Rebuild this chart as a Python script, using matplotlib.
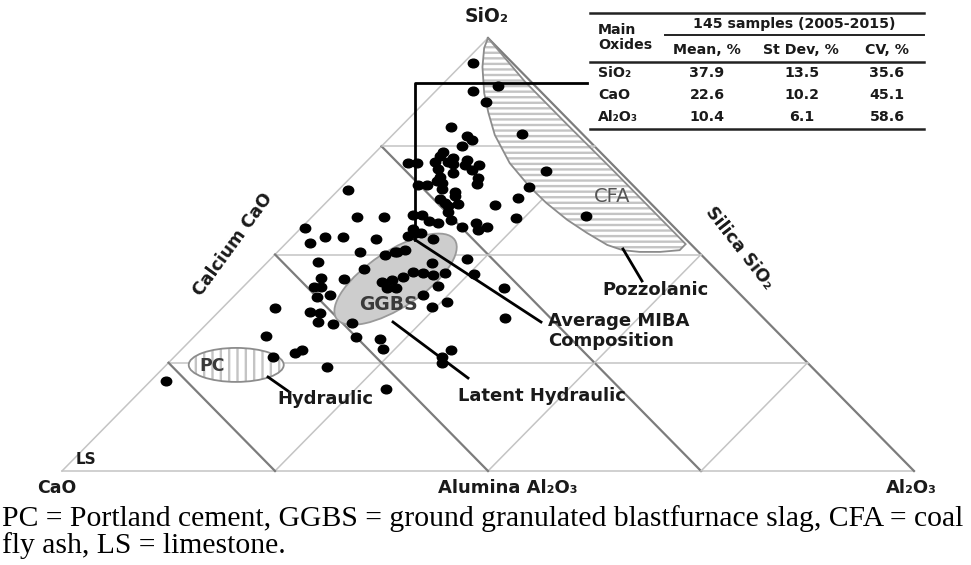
import numpy as np
import matplotlib
matplotlib.use("Agg")
import matplotlib.pyplot as plt
from matplotlib.patches import Ellipse, Polygon
from matplotlib.path import Path
from matplotlib.transforms import Affine2D

plt.rcParams['hatch.linewidth'] = 1.7

# MIBA samples, wt% (CaO is the rest to 100)
sio2 = np.array([94.2, 88.9, 87.8, 85.2, 79.4, 77.4, 76.4, 77.8, 75.1, 73.7,
                 72.7, 72.3, 71.1, 71.1, 71.4, 71.4, 70.9, 71.8, 70.7, 70.7,
                 69.5, 69.7, 68.8, 67.9, 67.0, 66.5, 67.7, 66.3, 66.1, 66.1,
                 65.1, 64.4, 63.5, 62.8, 61.9, 61.7, 61.2, 61.4, 63.0, 69.3,
                 65.6, 59.8, 59.1, 59.1, 58.0, 57.7, 57.3, 58.4, 58.9, 57.3,
                 55.7, 56.4, 56.4, 55.9, 55.0, 55.0, 54.3, 53.6, 50.6, 51.0,
                 49.0,
                 64.9, 58.7, 58.7, 56.1, 52.7, 54.0, 54.0, 53.6, 50.6, 49.9,
                 50.6, 48.3, 46.7, 44.6, 44.3, 42.5, 42.5, 40.6, 40.2, 37.6,
                 36.7, 36.5, 34.4, 33.9, 34.2, 31.2, 30.9, 30.5, 28.2, 27.3,
                 27.9, 26.3, 24.0, 20.8, 18.9,
                 48.0, 46.0, 45.7, 45.3, 45.7, 45.5, 43.6, 44.1, 44.8, 42.3,
                 42.3, 42.7, 42.3, 40.6, 37.9, 39.0, 35.3, 27.9, 26.3, 24.9])
al2o3 = np.array([1.1, 6.7, 4.3, 7.2, 6.0, 8.8, 9.9, 15.1, 9.4, 7.9,
                  8.0, 9.7, 5.1, 6.1, 8.1, 9.6, 10.4, 11.6, 11.9, 13.6,
                  13.4, 9.3, 11.5, 10.4, 10.5, 11.4, 15.0, 15.6, 8.7, 9.8,
                  12.1, 13.9, 14.4, 13.0, 14.0, 15.6, 14.7, 20.1, 22.0, 22.1,
                  22.0, 15.4, 11.6, 12.7, 16.7, 14.2, 15.5, 24.1, 32.1, 20.0,
                  21.0, 21.7, 18.7, 13.2, 13.9, 14.6, 13.5, 16.7, 14.0, 14.8,
                  23.0,
                  1.1, 5.3, 8.5, 0.5, 2.8, 3.9, 6.0, 10.1, 9.7, 13.0,
                  13.8, 5.9, 12.1, 8.1, 10.9, 8.3, 9.2, 11.2, 9.8, 6.2,
                  10.7, 12.0, 12.8, 14.8, 16.9, 8.3, 19.1, 22.1, 23.6, 13.7,
                  14.2, 11.6, 19.1, 1.8, 28.6,
                  19.4, 18.2, 19.5, 20.9, 22.1, 25.6, 15.8, 16.7, 17.6, 17.0,
                  18.0, 22.8, 30.7, 22.1, 24.5, 25.7, 34.3, 31.7, 31.4, 32.2])
cao = 100 - sio2 - al2o3

# table of the 145 samples
table_oxides = ["SiO₂", "CaO", "Al₂O₃"]
table_mean = [37.9, 22.6, 10.4]
table_sd = [13.5, 10.2, 6.1]
table_cv = [35.6, 45.1, 58.6]

# coal fly ash field (SiO2, Al2O3)
cfa_sio2 = [100, 90, 80, 70, 60, 55, 52.4, 51.0, 50.6, 50.6, 51.0, 52.2, 55.0,
            58.0, 61.9, 65.6, 71.1, 77.6, 82.7, 87.3, 93.3, 97.7]
cfa_al2o3 = [0, 9.3, 19.3, 29.4, 39.4, 44.4, 47.0, 47.0, 44.9, 42.5, 40.3, 37.9,
             34.1, 30.3, 25.9, 22.1, 17.0, 12.0, 8.7, 5.9, 2.7, 0.7]

# corners of the diagram (pixels)
P_CAO = np.array([62.0, 471.0])
P_SIO2 = np.array([488.0, 38.0])
P_AL = np.array([914.0, 471.0])


def tern(ca, si, al):
    ca = np.asarray(ca, float); si = np.asarray(si, float); al = np.asarray(al, float)
    s = ca + si + al
    x = (ca * P_CAO[0] + si * P_SIO2[0] + al * P_AL[0]) / s
    y = (ca * P_CAO[1] + si * P_SIO2[1] + al * P_AL[1]) / s
    return x, y


fig = plt.figure(figsize=(9.71, 5.65), dpi=100)
ax = fig.add_axes([0, 0, 1, 1])
ax.set_xlim(0, 971)
ax.set_ylim(565, 0)
ax.axis('off')

light = '#c4c4c4'
dark = '#7c7c7c'

# edges
x, y = tern([1, 0], [0, 1], [0, 0]); ax.plot(x, y, color=light, lw=1.1, zorder=1)
x, y = tern([1, 0], [0, 0], [0, 1]); ax.plot(x, y, color=light, lw=1.1, zorder=1)
x, y = tern([0, 0], [1, 0], [0, 1]); ax.plot(x, y, color=dark, lw=1.6, zorder=1)
for f in (0.25, 0.5, 0.75):
    x, y = tern([1 - f, 0], [f, f], [0, 1 - f])
    ax.plot(x, y, color=light, lw=1.1, zorder=1)
    x, y = tern([1 - f, 0], [0, 1 - f], [f, f])
    ax.plot(x, y, color=light, lw=1.1, zorder=1)
    x, y = tern([f, f], [0, 1 - f], [1 - f, 0])
    ax.plot(x, y, color=dark, lw=1.6, zorder=1)

# CFA field
cx, cy = tern(100 - np.array(cfa_sio2) - np.array(cfa_al2o3), cfa_sio2, cfa_al2o3)
ax.add_patch(Polygon(np.column_stack([cx, cy]), closed=True, facecolor='white',
                     edgecolor='#c4c4c4', lw=0, hatch='---', zorder=2))
ax.add_patch(Polygon(np.column_stack([cx, cy]), closed=True, facecolor='none',
                     edgecolor='#8c8c8c', lw=1.3, zorder=2))

# PC field
px, py = tern(67.3, 24.5, 8.2)
ax.add_patch(Ellipse((px, py), 95, 34, angle=0, facecolor='white',
                     edgecolor='#c4c4c4', lw=0, hatch='||', zorder=2))
ax.add_patch(Ellipse((px, py), 95, 34, angle=0, facecolor='none',
                     edgecolor='#8c8c8c', lw=1.3, zorder=2))

# GGBS field
gx, gy = tern(38.7, 44.3, 17.0)
ax.add_patch(Ellipse((gx, gy), 142, 56, angle=-33.5, facecolor='#cdcdcd',
                     edgecolor='#9a9a9a', lw=1.3, zorder=2))

# samples (slightly wide dots, like the scanned figure)
dot = Path.unit_circle().transformed(Affine2D().scale(1.2, 1.0))
x, y = tern(cao, sio2, al2o3)
ax.plot(x, y, linestyle='none', marker=dot, color='black', ms=7.5, zorder=4)

# average composition and pointers
axv, ayv = tern(table_mean[1], table_mean[0], table_mean[2])
ax.plot([587, axv, axv], [83, 83, ayv], color='black', lw=2, zorder=5)
ax.plot([axv, 541], [ayv, 322], color='black', lw=2, zorder=5)
ax.plot([393, 468], [322, 378], color='black', lw=2, zorder=5)
ax.plot([268, 288], [377, 391], color='black', lw=2, zorder=5)
ax.plot([623, 642], [249, 281], color='black', lw=2, zorder=5)

lab = dict(fontweight='bold', color='#1a1a1a', fontsize=13, zorder=6)
ax.text(487, 16, "SiO₂", ha='center', va='center', fontweight='bold', fontsize=13.5, color='#1a1a1a')
ax.text(57, 488, "CaO", ha='center', va='center', fontweight='bold', fontsize=12.5, color='#1a1a1a')
ax.text(508, 488, "Alumina Al₂O₃", ha='center', va='center', fontweight='bold', fontsize=13, color='#1a1a1a')
ax.text(911, 488, "Al₂O₃", ha='center', va='center', fontweight='bold', fontsize=13, color='#1a1a1a')
ax.text(86, 460, "LS", ha='center', va='center', fontweight='bold', fontsize=11, color='#1a1a1a')
ax.text(233, 245, "Calcium CaO", ha='center', va='center', rotation=54, fontweight='bold',
        color='#1a1a1a', fontsize=12.5)
ax.text(740, 248, "Silica SiO₂", ha='center', va='center', rotation=-52, fontweight='bold',
        color='#1a1a1a', fontsize=12.5)
ax.text(212, 366, "PC", ha='center', va='center', fontweight='bold', fontsize=12.5, color='#3a3a3a', zorder=6)
ax.text(388, 305, "GGBS", ha='center', va='center', fontweight='bold', fontsize=13.5, color='#3a3a3a', zorder=6)
ax.text(612, 197, "CFA", ha='center', va='center', fontsize=14, color='#555555', zorder=6)
ax.text(656, 290, "Pozzolanic", ha='center', va='center', **lab)
ax.text(548, 331, "Average MIBA\nComposition", ha='left', va='center', linespacing=1.2, **lab)
ax.text(542, 396, "Latent Hydraulic", ha='center', va='center', **lab)
ax.text(325, 399, "Hydraulic", ha='center', va='center', **lab)

# table
tk = dict(color='#222222', lw=1.8)
ax.plot([590, 924], [13, 13], **tk)
ax.plot([665, 924], [35, 35], color='#222222', lw=1.4)
ax.plot([590, 924], [62, 62], **tk)
ax.plot([590, 924], [129, 129], **tk)
tf = dict(fontweight='bold', fontsize=10.2, color='#1a1a1a', va='center')
ax.text(598, 30, "Main", ha='left', **tf)
ax.text(598, 45, "Oxides", ha='left', **tf)
ax.text(794, 24, "145 samples (2005-2015)", ha='center', **tf)
ax.text(707, 50, "Mean, %", ha='center', **tf)
ax.text(801, 50, "St Dev, %", ha='center', **tf)
ax.text(887, 50, "CV, %", ha='center', **tf)
for i, name in enumerate(table_oxides):
    yy = 73 + 22 * i
    ax.text(598, yy, name, ha='left', **tf)
    ax.text(707, yy, "%.1f" % table_mean[i], ha='center', **tf)
    ax.text(802, yy, "%.1f" % table_sd[i], ha='center', **tf)
    ax.text(887, yy, "%.1f" % table_cv[i], ha='center', **tf)

# caption
cap = dict(family='Liberation Serif', fontsize=21.3, color='black', ha='left', va='center')
ax.text(2, 519, "PC = Portland cement, GGBS = ground granulated blastfurnace slag, CFA = coal", **cap)
ax.text(2, 546, "fly ash, LS = limestone.", **cap)

fig.savefig("out.png", dpi=100)
